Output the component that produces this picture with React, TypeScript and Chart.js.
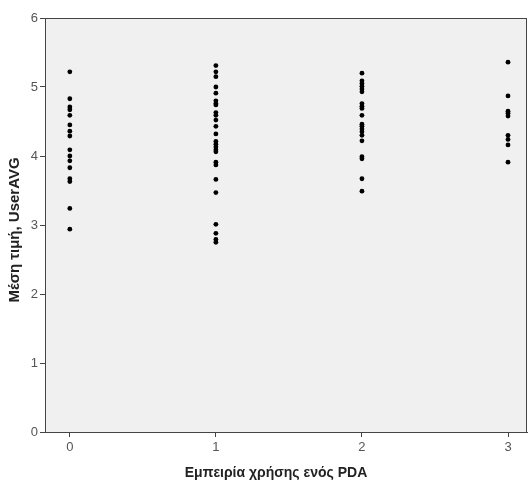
import React, { useEffect, useRef } from "react";
import { Chart, registerables } from "chart.js";

Chart.register(...registerables);

const categories = [0, 1, 2, 3];
const group0 = [5.22, 4.83, 4.71, 4.67, 4.59, 4.45, 4.36, 4.29, 4.09, 4.0, 3.93, 3.83, 3.67, 3.63, 3.24, 2.94];
const group1 = [5.31, 5.22, 5.15, 5.0, 4.91, 4.8, 4.76, 4.74, 4.63, 4.59, 4.52, 4.43, 4.32, 4.21, 4.17, 4.13, 4.09, 4.06, 3.91, 3.87, 3.66, 3.47, 3.01, 2.88, 2.79, 2.75];
const group2 = [5.2, 5.09, 5.05, 5.01, 4.97, 4.93, 4.76, 4.72, 4.69, 4.59, 4.46, 4.43, 4.39, 4.35, 4.3, 4.22, 3.99, 3.96, 3.67, 3.49];
const group3 = [5.36, 4.87, 4.65, 4.62, 4.58, 4.3, 4.24, 4.16, 3.91];
const yTicks = [0, 1, 2, 3, 4, 5, 6];
const xTitle = "Εμπειρία χρήσης ενός PDA";
const yTitle = "Μέση τιμή, UserAVG";

const groups = [group0, group1, group2, group3];

export default function App() {
  const ref = useRef<HTMLCanvasElement>(null);
  useEffect(() => {
    const points: { x: number; y: number }[] = [];
    groups.forEach((g, i) => g.forEach((v) => points.push({ x: categories[i], y: v })));
    const bgPlugin = {
      id: "bg",
      beforeDraw(chart: any) {
        const { ctx, chartArea: a } = chart;
        ctx.save();
        ctx.fillStyle = "#f0f0f0";
        ctx.fillRect(a.left, a.top, a.right - a.left, a.bottom - a.top);
        ctx.strokeStyle = "#444";
        ctx.lineWidth = 1;
        ctx.beginPath();
        ctx.moveTo(a.left, a.top + 0.5);
        ctx.lineTo(a.right, a.top + 0.5);
        ctx.moveTo(a.right - 0.5, a.top);
        ctx.lineTo(a.right - 0.5, a.bottom);
        ctx.stroke();
        ctx.restore();
      },
      afterDraw(chart: any) {
        const { ctx, chartArea: a } = chart;
        ctx.save();
        ctx.fillStyle = "#222";
        ctx.textAlign = "center";
        ctx.textBaseline = "middle";
        ctx.font = "bold 14px 'Liberation Sans'";
        ctx.fillText(xTitle, (a.left + a.right) / 2 - 10, 473);
        ctx.font = "bold 15px 'Liberation Sans'";
        ctx.translate(15, (a.top + a.bottom) / 2 + 5);
        ctx.rotate(-Math.PI / 2);
        ctx.fillText(yTitle, 0, 0);
        ctx.restore();
      },
    };
    const chart = new Chart(ref.current!, {
      type: "scatter",
      data: {
        datasets: [
          {
            data: points,
            backgroundColor: "#000",
            borderColor: "#000",
            pointRadius: 2.4,
            pointBorderWidth: 0,
          },
        ],
      },
      options: {
        animation: false,
        responsive: false,
        layout: { padding: { top: 18, right: 0, left: 0, bottom: 0 } },
        plugins: { legend: { display: false }, tooltip: { enabled: false } },
        scales: {
          x: {
            type: "linear",
            min: -0.17,
            max: 3.13,
            afterBuildTicks: (s: any) => {
              s.ticks = categories.map((v) => ({ value: v }));
            },
            afterFit: (s: any) => {
              s.height = 50;
            },
            grid: { drawOnChartArea: false, drawTicks: true, tickLength: 5, color: "#444" },
            border: { display: true, color: "#444" },
            ticks: { color: "#555", font: { family: "Liberation Sans", size: 13 }, padding: 3 },
          },
          y: {
            type: "linear",
            min: 0,
            max: 6,
            afterBuildTicks: (s: any) => {
              s.ticks = yTicks.map((v) => ({ value: v }));
            },
            afterFit: (s: any) => {
              s.width = 45;
            },
            grid: { drawOnChartArea: false, drawTicks: true, tickLength: 5, color: "#444" },
            border: { display: true, color: "#444" },
            ticks: { color: "#555", font: { family: "Liberation Sans", size: 13 }, padding: 2 },
          },
        },
      },
      plugins: [bgPlugin],
    } as any);
    return () => chart.destroy();
  }, []);
  return (
    <div style={{ position: "absolute", left: 0, top: 0, width: 531, height: 482, background: "#fff" }}>
      <canvas ref={ref} width={531} height={482} />
    </div>
  );
}
